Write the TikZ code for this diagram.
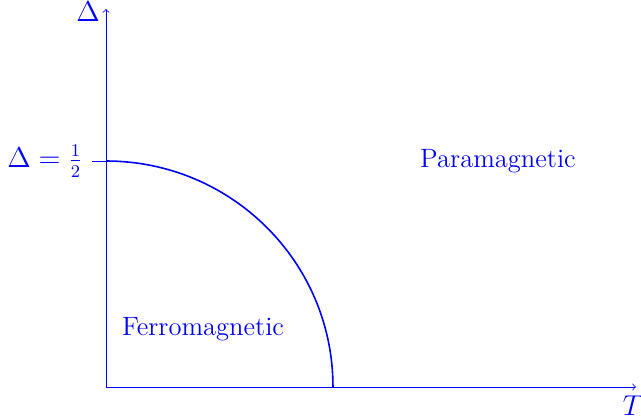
\documentclass[tikz,border=0pt]{standalone}
\begin{document}
\begin{tikzpicture}[x=0.017621cm,y=0.017621cm,
  axis/.style={blue,->},
  curve/.style={blue,thick},
  lbl/.style={blue,inner sep=0pt,font=\fontsize{13.3}{16}\selectfont}]
\useasboundingbox (0,0) rectangle (641,419);
\coordinate (O) at (106,32);
\coordinate (ytop) at (106,410);
\coordinate (xend) at (636,32);
\coordinate (tickL) at (92,258);
\coordinate (tickR) at (106,258);
\draw[axis] (O) -- (ytop);
\draw[axis] (O) -- (xend);
\draw[blue] (tickL) -- (tickR);
\draw[curve] (tickR) arc[start angle=90,end angle=0,x radius=4cm,y radius=3.98cm];
\node[lbl] (dlab) at (88,407) {$\Delta$};
\node[lbl,anchor=east] (half) at (83,258) {$\Delta=\frac{1}{2}$};
\node[lbl] (tlab) at (633,13) {$T$};
\node[lbl] (para) at (498,258) {Paramagnetic};
\node[lbl] (ferro) at (203,90) {Ferromagnetic};
\end{tikzpicture}
\end{document}
